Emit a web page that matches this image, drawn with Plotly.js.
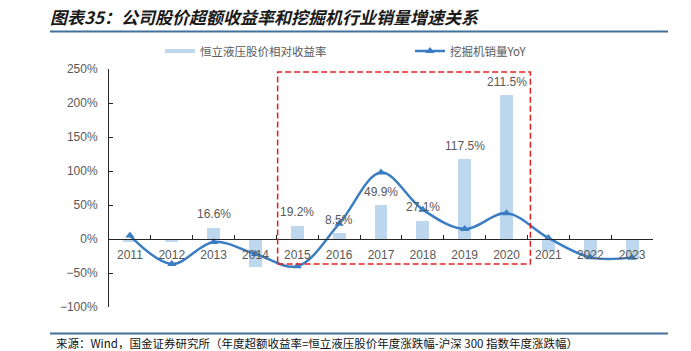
<!DOCTYPE html>
<html>
<head>
<meta charset="utf-8">
<script src="https://cdn.plot.ly/plotly-3.0.1.min.js"></script>
<style>html,body{margin:0;padding:0;background:#fff;}#chart{width:691px;height:351px;}</style>
</head>
<body>
<div id="chart"></div>
<script>
// ---- data ----
const years = ['2011','2012','2013','2014','2015','2016','2017','2018','2019','2020','2021','2022','2023'];
const excessReturn = [-4, -5, 16.6, -41, 19.2, 8.5, 49.9, 27.1, 117.5, 211.5, -18, -30, -28];
const excavatorYoY = [5, -36.7, -4.4, -22, -40, 22.4, 97.7, 43, 14.6, 38, 1.5, -27, -27.4];
const barName = '恒立液压股价相对收益率';
const lineName = '挖掘机销量YoY';
const yMin = -100, yMax = 250;
const titleText = '图表35：公司股价超额收益率和挖掘机行业销量增速关系';
const sourceText = '来源：Wind，国金证券研究所（年度超额收益率=恒立液压股价年度涨跌幅-沪深 300 指数年度涨跌幅）';
// highlighted period (category index range) for the red dashed box
const boxX = [3.53, 9.57];
const boxY = [-36.7, 245.7];

const barColor = '#BDD7EE';
const lineColor = '#3A7DC2';
const gray = '#595959';
const axisColor = '#262626';
const baseFont = 'Liberation Sans, Arial, Noto Sans CJK SC, sans-serif';

const traces = [
  {
    type: 'bar', x: years, y: excessReturn, name: barName, showlegend: false,
    marker: {color: barColor}, width: 0.31, hoverinfo: 'skip'
  },
  {
    type: 'scatter', mode: 'lines', x: [null], y: [null], name: barName,
    line: {color: barColor, width: 4}, showlegend: true, legendwidth: 205
  },
  {
    type: 'scatter', mode: 'lines+markers', x: years, y: excavatorYoY, name: lineName,
    line: {color: lineColor, width: 2.5, shape: 'spline', smoothing: 1},
    marker: {symbol: 'triangle-up', size: 8, color: lineColor}, cliponaxis: false,
    legendwidth: 90
  }
];

const plotTop = 69, plotBottom = 307, plotLeft = 109, plotRight = 653;
const plotH = plotBottom - plotTop, plotW = plotRight - plotLeft;
const px2paperX = p => (p - plotLeft) / plotW;
const px2paperY = p => (plotBottom - p) / plotH;

// value labels above positive bars (x given as category index)
const labelAnnotations = excessReturn.map((v, i) => v > 0 ? {
  x: i, y: v, xref: 'x', yref: 'y', text: v.toFixed(1) + '%',
  showarrow: false, xanchor: 'center', yanchor: 'middle', yshift: 13.5,
  font: {family: baseFont, size: 12, color: gray}
} : null).filter(a => a);

const layout = {
  width: 691, height: 351,
  margin: {l: plotLeft, r: 691 - plotRight, t: plotTop, b: 351 - plotBottom, pad: 0},
  paper_bgcolor: '#fff', plot_bgcolor: '#fff',
  font: {family: baseFont, size: 12, color: gray},
  title: {
    text: titleText, x: 50 / 691, xanchor: 'left', xref: 'container',
    y: 1 - 18 / 351, yanchor: 'middle', yref: 'container',
    font: {family: 'Noto Sans CJK SC, sans-serif', size: 17, color: '#1a1a1a', weight: 'bold', style: 'italic'}
  },
  bargap: 0,
  xaxis: {
    type: 'category', range: [-0.5, years.length - 0.5],
    anchor: 'free', position: (0 - yMin) / (yMax - yMin),
    showline: true, linecolor: axisColor, linewidth: 1,
    ticks: 'inside', tickson: 'boundaries', ticklen: 4, tickcolor: axisColor,
    showgrid: false, zeroline: false, ticklabelstandoff: 5,
    tickfont: {family: baseFont, size: 12, color: gray}, fixedrange: true
  },
  yaxis: {
    range: [yMin, yMax], dtick: 50, ticksuffix: '%',
    showline: true, linecolor: axisColor, linewidth: 1,
    ticks: 'inside', ticklen: 4, tickcolor: axisColor,
    showgrid: false, zeroline: false, ticklabelstandoff: 8,
    tickfont: {family: baseFont, size: 12, color: gray}, fixedrange: true
  },
  showlegend: true,
  legend: {
    orientation: 'h', x: px2paperX(160), xanchor: 'left', y: px2paperY(51), yanchor: 'middle',
    traceorder: 'normal',
    font: {family: 'Noto Sans CJK SC, Liberation Sans, sans-serif', size: 11.5, color: gray},
    bgcolor: 'rgba(0,0,0,0)'
  },
  shapes: [
    {type: 'rect', xref: 'x', yref: 'y', x0: boxX[0], x1: boxX[1], y0: boxY[0], y1: boxY[1],
     line: {color: '#E62020', width: 1.5, dash: '6px,3px'}, fillcolor: 'rgba(0,0,0,0)'},
    {type: 'line', xref: 'paper', yref: 'paper', x0: px2paperX(50), x1: px2paperX(668),
     y0: px2paperY(31.5), y1: px2paperY(31.5), line: {color: '#41719C', width: 2}},
    {type: 'line', xref: 'paper', yref: 'paper', x0: px2paperX(50), x1: px2paperX(668),
     y0: px2paperY(333.5), y1: px2paperY(333.5), line: {color: '#41719C', width: 2}}
  ],
  annotations: labelAnnotations.concat([
    {text: sourceText, xref: 'paper', yref: 'paper', x: px2paperX(54), y: px2paperY(343),
     xanchor: 'left', yanchor: 'middle', showarrow: false,
     font: {family: 'Noto Sans CJK SC, sans-serif', size: 11.5, color: '#111'}}
  ])
};

Plotly.newPlot('chart', traces, layout, {displayModeBar: false, staticPlot: true});
</script>
</body>
</html>
